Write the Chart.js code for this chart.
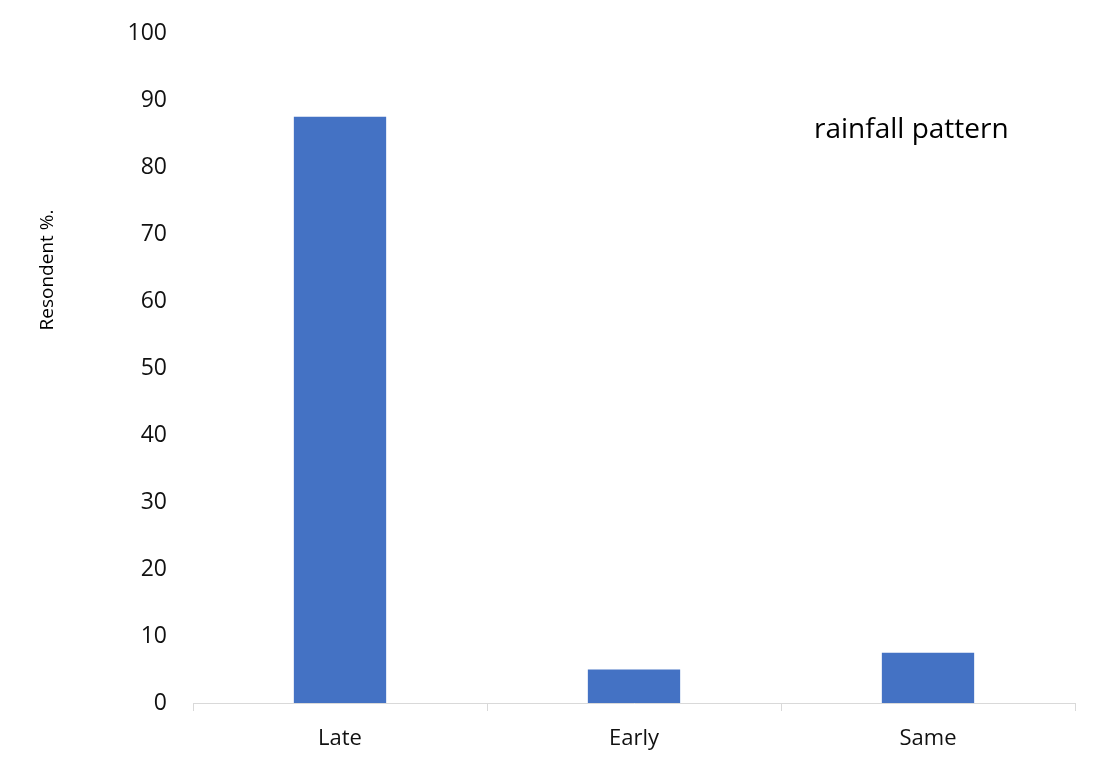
<!DOCTYPE html>
<html>
<head>
<meta charset="utf-8">
<script src="https://cdn.jsdelivr.net/npm/chart.js@4"></script>
<style>
  html, body { margin: 0; padding: 0; background: #fff; }
  #wrap { width: 1102px; height: 783px; }
</style>
</head>
<body>
<div id="wrap"><canvas id="myChart" width="1102" height="783"></canvas></div>
<script>
const categories = ['Late', 'Early', 'Same'];
const respondents = [87.5, 5, 7.5];
const yTicks = [0, 10, 20, 30, 40, 50, 60, 70, 80, 90, 100];

const FONT = '"Open Sans", "Liberation Sans", sans-serif';

// free text: rotated y title and the inset label
const textPlugin = {
    id: 'freeText',
    afterDraw(chart) {
        const ctx = chart.ctx;
        ctx.save();
        ctx.fillStyle = '#000';
        ctx.font = '19px ' + FONT;
        ctx.textAlign = 'center';
        ctx.textBaseline = 'middle';
        ctx.translate(48, 270);
        ctx.rotate(-Math.PI / 2);
        ctx.fillText('Resondent %.', 0, 0);
        ctx.restore();

        ctx.save();
        ctx.fillStyle = '#000';
        ctx.font = '28px ' + FONT;
        ctx.textAlign = 'left';
        ctx.textBaseline = 'middle';
        ctx.fillText('rainfall pattern', 814, 130);
        ctx.restore();
    }
};

var ctx = document.getElementById('myChart').getContext('2d');
var myChart = new Chart(ctx, {
    type: 'bar',
    data: {
        labels: categories,
        datasets: [{
            data: respondents,
            backgroundColor: '#4472C4',
            categoryPercentage: 1,
            barPercentage: 0.314
        }]
    },
    options: {
        responsive: false,
        animation: false,
        layout: { padding: { top: 33, right: 27, bottom: 0, left: 0 } },
        plugins: { legend: { display: false }, tooltip: { enabled: false } },
        scales: {
            x: {
                grid: {
                    display: true,
                    drawOnChartArea: false,
                    offset: true,
                    tickLength: 8,
                    color: '#d9d9d9',
                    lineWidth: 1
                },
                border: { color: '#d9d9d9', width: 1 },
                ticks: { color: '#111', font: { family: FONT, size: 22 }, padding: 15 },
                afterFit(scale) { scale.height = 80; }
            },
            y: {
                min: 0,
                max: 100,
                afterBuildTicks(scale) { scale.ticks = yTicks.map(v => ({ value: v })); },
                grid: { display: false },
                border: { display: false },
                ticks: { color: '#111', font: { family: FONT, size: 23 }, padding: 18 },
                afterFit(scale) { scale.width = 193; }
            }
        }
    },
    plugins: [textPlugin]
});
</script>
</body>
</html>
